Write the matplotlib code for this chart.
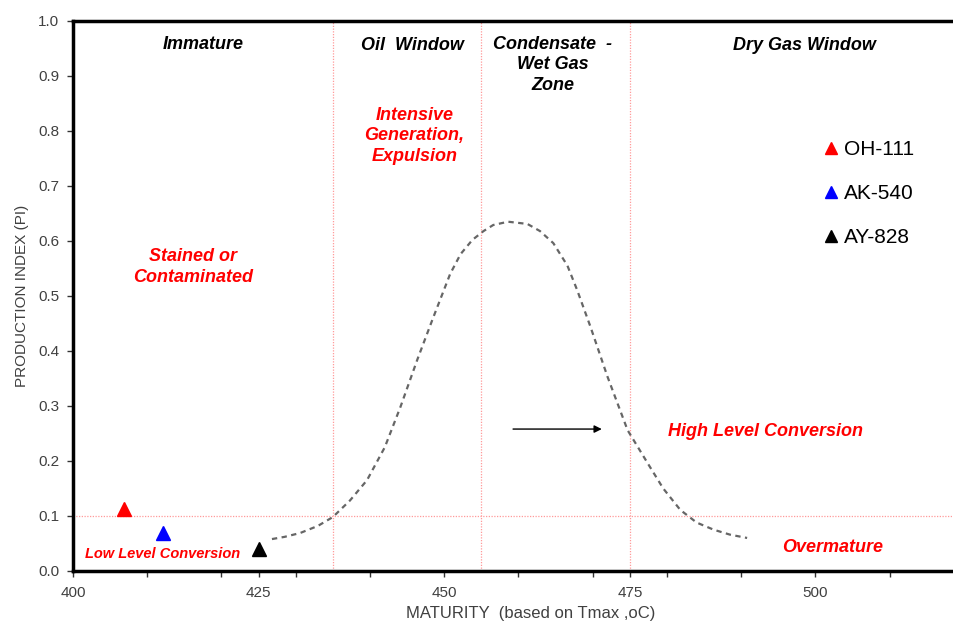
"""PI vs Tmax maturity plot"""
import numpy as np
import matplotlib
matplotlib.use("Agg")
import matplotlib.pyplot as plt
from matplotlib.ticker import MultipleLocator

plt.rcParams['font.family'] = ['Liberation Sans', 'DejaVu Sans']

#sample points
wells = ["OH-111", "AK-540", "AY-828"]
tmax = [406.9, 412.1, 425.0]
pi = [0.113, 0.069, 0.040]
well_colors = ["#ff0000", "#0000ff", "#000000"]

#maturity guide curve
curve_x = [426.8, 428.5, 430.6, 433.0, 435.0, 437.3, 439.6, 442.0, 444.1, 446.4,
           448.5, 450.8, 452.2, 453.8, 455.3, 456.6, 458.6, 461.2, 462.9, 464.7,
           466.6, 467.9, 469.7, 472.0, 474.7, 477.4, 479.5, 481.8, 484.0, 486.3,
           488.5, 490.8]
curve_y = [0.058, 0.062, 0.069, 0.082, 0.098, 0.128, 0.165, 0.225, 0.298, 0.385,
           0.460, 0.540, 0.576, 0.602, 0.618, 0.629, 0.635, 0.631, 0.618, 0.596,
           0.555, 0.511, 0.444, 0.353, 0.256, 0.196, 0.150, 0.111, 0.088, 0.075,
           0.066, 0.060]

#zone boundaries
zone_edges = [435, 455, 475]
pi_limit = 0.1

fig = plt.figure(figsize=(9.54, 6.24), dpi=100)
ax = fig.add_axes([0.0765, 0.085, 0.93, 0.8814])
ax.set_xlim(400, 519.5)
ax.set_ylim(0, 1.0)

#guide lines
for xe in zone_edges:
    ax.axvline(xe, color="#ff9a9a", lw=0.9, ls=(0, (1, 1.2)), zorder=1)
ax.axhline(pi_limit, color="#ff9a9a", lw=0.9, ls=(0, (1, 1.2)), zorder=1)

ax.plot(curve_x, curve_y, color="#666666", lw=1.6, ls=(0, (2.4, 2.0)), zorder=2)

#samples
for name, x, y, c in zip(wells, tmax, pi, well_colors):
    ax.plot(x, y, ls="none", marker="^", ms=10, color=c, label=name, zorder=3)

leg = ax.legend(loc="upper left", bbox_to_anchor=(0.826, 0.818), frameon=False,
                handlelength=0.6, handletextpad=0.35, labelspacing=1.2,
                prop={"size": 15}, markerscale=0.8)

#zone titles
bi = dict(fontweight="bold", fontstyle="italic", ha="center", va="center")
ax.text(417.5, 0.958, "Immature", fontsize=13, color="black", **bi)
ax.text(445.7, 0.955, "Oil  Window", fontsize=13, color="black", **bi)
ax.text(464.6, 0.92, "Condensate  -\nWet Gas\nZone", fontsize=13, color="black",
        linespacing=1.27, **bi)
ax.text(498.5, 0.955, "Dry Gas Window", fontsize=13, color="black", **bi)

ax.text(446.0, 0.791, "Intensive\nGeneration,\nExpulsion", fontsize=13,
        color="#ff0000", linespacing=1.27, **bi)
ax.text(416.2, 0.553, "Stained or\nContaminated", fontsize=13,
        color="#ff0000", linespacing=1.27, **bi)
ax.text(412.0, 0.030, "Low Level Conversion", fontsize=10.5, color="#ff0000", **bi)
ax.text(493.3, 0.253, "High Level Conversion", fontsize=13, color="#ff0000", **bi)
ax.text(502.3, 0.042, "Overmature", fontsize=13, color="#ff0000", **bi)

ax.annotate("", xy=(471.6, 0.258), xytext=(458.9, 0.258),
            arrowprops=dict(arrowstyle="-|>", color="black", lw=1.0,
                            mutation_scale=11))

#axes styling
for s in ["left", "bottom", "top"]:
    ax.spines[s].set_linewidth(2.5)
    ax.spines[s].set_color("black")
ax.spines["right"].set_visible(False)

ax.set_xticks([400, 425, 450, 475, 500])
ax.xaxis.set_minor_locator(MultipleLocator(10))
ax.yaxis.set_major_locator(MultipleLocator(0.1))
ax.yaxis.set_major_formatter(plt.FuncFormatter(lambda v, p: f"{v:.1f}"))
ax.tick_params(axis="both", which="both", direction="out", length=4, width=1,
               color="#333333", labelcolor="#404040", labelsize=11)
ax.tick_params(axis="y", pad=6)
ax.tick_params(axis="x", pad=7)

ax.set_xlabel("MATURITY  (based on Tmax ,oC)", color="#404040", fontsize=12)
ax.xaxis.set_label_coords(0.516, -0.078)
ax.xaxis.label.set_va("center")
ax.set_ylabel("PRODUCTION INDEX (PI)", color="#404040", fontsize=11)
ax.yaxis.set_label_coords(-0.05, 0.5)

fig.savefig("out.png", dpi=100)
